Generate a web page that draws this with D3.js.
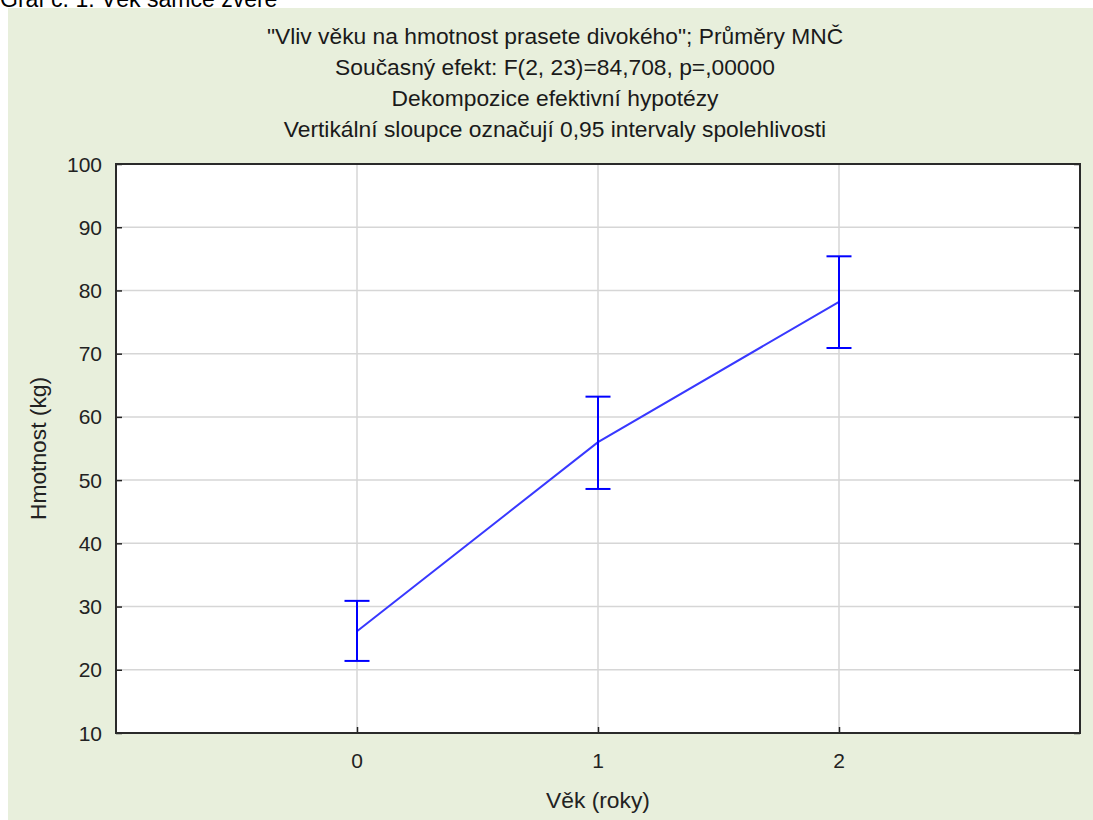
<!DOCTYPE html>
<html>
<head>
<meta charset="utf-8">
<script src="https://cdn.jsdelivr.net/npm/d3@7"></script>
<style>
  body { margin: 0; background: #fff; }
  svg { display: block; font-family: "Liberation Sans", Arial, sans-serif; }
</style>
</head>
<body>
<svg width="1093" height="820"></svg>
<script>
// data
var ages = [0, 1, 2];
var means = [26.1, 56.0, 78.2];
var ciLow = [21.4, 48.6, 70.9];
var ciHigh = [30.9, 63.2, 85.4];
var yTicks = [10, 20, 30, 40, 50, 60, 70, 80, 90, 100];
var titleLines = [
  "\"Vliv věku na hmotnost prasete divokého\"; Průměry MNČ",
  "Současný efekt: F(2, 23)=84,708, p=,00000",
  "Dekompozice efektivní hypotézy",
  "Vertikální sloupce označují 0,95 intervaly spolehlivosti"
];

(function(){
    var svg = d3.select("svg");
    var left = 116, right = 1080, top = 164, bottom = 733;

    // cropped caption above the chart
    svg.append("text")
        .attr("x", 0).attr("y", 7)
        .attr("font-size", 23).attr("fill", "#000")
        .text("Graf č. 1: Věk samce zvěře");

    svg.append("rect")
        .attr("x", 8).attr("y", 8)
        .attr("width", 1093 - 8).attr("height", 820 - 8)
        .attr("fill", "#e8efdc");

    svg.append("g").selectAll("text")
        .data(titleLines)
        .enter().append("text")
        .attr("x", 555)
        .attr("y", function(d, i) { return 44 + i * 31; })
        .attr("text-anchor", "middle")
        .attr("font-size", 22.8)
        .attr("fill", "#1a1a1a")
        .text(function(d) { return d; });

    var x = d3.scaleLinear().domain([-1, 3]).range([left, right]);
    var y = d3.scaleLinear().domain([10, 100]).range([bottom, top]);

    svg.append("rect")
        .attr("x", left).attr("y", top)
        .attr("width", right - left).attr("height", bottom - top)
        .attr("fill", "#fff");

    // grid
    svg.append("g").selectAll("line")
        .data(yTicks.slice(1, -1))
        .enter().append("line")
        .attr("x1", left).attr("x2", right)
        .attr("y1", function(d) { return y(d); })
        .attr("y2", function(d) { return y(d); })
        .attr("stroke", "#d6d6d6").attr("stroke-width", 1.5);

    svg.append("g").selectAll("line")
        .data(ages)
        .enter().append("line")
        .attr("x1", function(d) { return x(d); })
        .attr("x2", function(d) { return x(d); })
        .attr("y1", top).attr("y2", bottom)
        .attr("stroke", "#d6d6d6").attr("stroke-width", 1.5);

    // axes with inward ticks
    svg.append("g")
        .attr("transform", "translate(" + left + ",0)")
        .call(d3.axisRight(y).tickValues(yTicks).tickSize(6).tickFormat(""));
    svg.append("g")
        .attr("transform", "translate(" + right + ",0)")
        .call(d3.axisLeft(y).tickValues(yTicks).tickSize(6).tickFormat(""));
    svg.append("g")
        .attr("transform", "translate(0," + bottom + ")")
        .call(d3.axisTop(x).tickValues(ages).tickSize(6).tickFormat(""));
    svg.selectAll(".domain").remove();
    svg.selectAll(".tick line").attr("stroke", "#222").attr("stroke-width", 1.5);

    svg.append("rect")
        .attr("x", left).attr("y", top)
        .attr("width", right - left).attr("height", bottom - top)
        .attr("fill", "none").attr("stroke", "#2a2a2a").attr("stroke-width", 2);

    // tick labels
    svg.append("g").selectAll("text")
        .data(yTicks)
        .enter().append("text")
        .attr("x", 102)
        .attr("y", function(d) { return y(d); })
        .attr("dy", "0.36em")
        .attr("text-anchor", "end")
        .attr("font-size", 21).attr("fill", "#222")
        .text(function(d) { return d; });

    svg.append("g").selectAll("text")
        .data(ages)
        .enter().append("text")
        .attr("x", function(d) { return x(d); })
        .attr("y", 768)
        .attr("text-anchor", "middle")
        .attr("font-size", 21).attr("fill", "#222")
        .text(function(d) { return d; });

    svg.append("text")
        .attr("x", x(1)).attr("y", 808)
        .attr("text-anchor", "middle")
        .attr("font-size", 22.8).attr("fill", "#222")
        .text("Věk (roky)");

    svg.append("text")
        .attr("transform", "translate(46," + (top + bottom) / 2 + ") rotate(-90)")
        .attr("text-anchor", "middle")
        .attr("font-size", 22.8).attr("fill", "#222")
        .text("Hmotnost (kg)");

    // means line
    var line = d3.line()
        .x(function(d, i) { return x(ages[i]); })
        .y(function(d) { return y(d); });
    svg.append("path")
        .datum(means)
        .attr("d", line)
        .attr("fill", "none")
        .attr("stroke", "#3838ff")
        .attr("stroke-width", 2);

    // error bars
    var bars = svg.append("g").selectAll("g")
        .data(ages)
        .enter().append("g")
        .attr("stroke", "#0000ff").attr("stroke-width", 2);
    bars.append("line")
        .attr("x1", function(d) { return x(d); })
        .attr("x2", function(d) { return x(d); })
        .attr("y1", function(d, i) { return y(ciLow[i]); })
        .attr("y2", function(d, i) { return y(ciHigh[i]); });
    bars.append("line")
        .attr("x1", function(d) { return x(d) - 12.5; })
        .attr("x2", function(d) { return x(d) + 12.5; })
        .attr("y1", function(d, i) { return y(ciHigh[i]); })
        .attr("y2", function(d, i) { return y(ciHigh[i]); });
    bars.append("line")
        .attr("x1", function(d) { return x(d) - 12.5; })
        .attr("x2", function(d) { return x(d) + 12.5; })
        .attr("y1", function(d, i) { return y(ciLow[i]); })
        .attr("y2", function(d, i) { return y(ciLow[i]); });
})();
</script>
</body>
</html>
